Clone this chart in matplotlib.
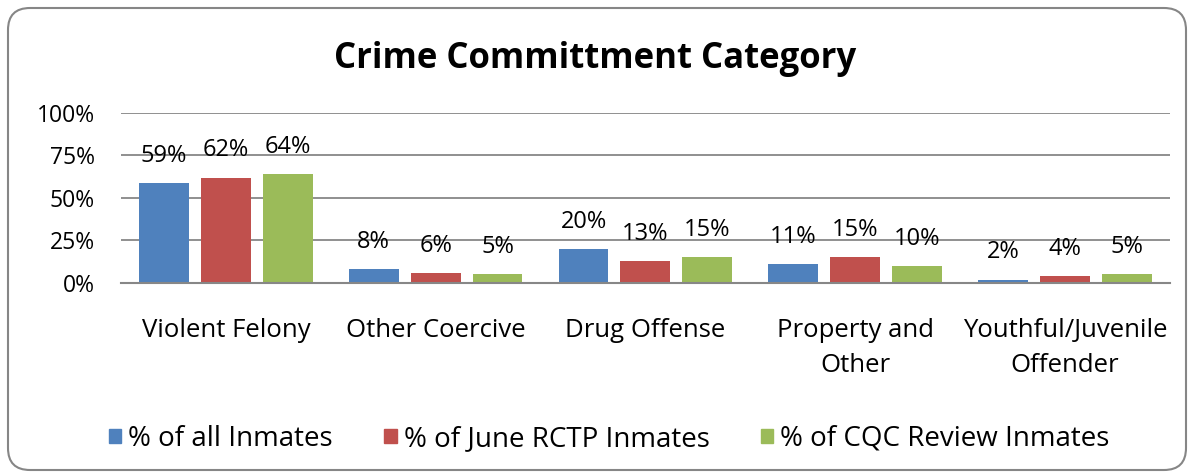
import numpy as np
import matplotlib
matplotlib.use('Agg')
import matplotlib.pyplot as plt
from matplotlib.patches import FancyBboxPatch, Patch

categories = ['Violent Felony', 'Other Coercive', 'Drug Offense',
              'Property and\nOther', 'Youthful/Juvenile\nOffender']
series_names = ['% of all Inmates', '% of June RCTP Inmates', '% of CQC Review Inmates']
all_inmates = [59, 8, 20, 11, 2]
june_rctp = [62, 6, 13, 15, 4]
cqc_review = [64, 5, 15, 10, 5]
yticks = [0, 25, 50, 75, 100]
ytick_labels = ['0%', '25%', '50%', '75%', '100%']

COLORS = ['#4F81BD', '#C0504D', '#9BBB59']
FONT = 'Open Sans'

fig = plt.figure(figsize=(11.9, 4.74), dpi=100)
ax = fig.add_axes([0.1017, 0.403, 0.8813, 0.3587])

# rounded chart border
border = FancyBboxPatch((0.08, 0.04), 11.78, 4.62,
                        boxstyle='round,pad=0,rounding_size=0.22',
                        transform=fig.dpi_scale_trans, fill=False,
                        edgecolor='#868686', lw=1.5)
fig.patches.append(border)

x = np.arange(len(categories))
width = 0.238
step = 0.295
for i, vals in enumerate([all_inmates, june_rctp, cqc_review]):
    pos = x + (i - 1) * step
    ax.bar(pos, vals, width, color=COLORS[i], zorder=3, label=series_names[i])
    for p, v in zip(pos, vals):
        ax.annotate(f'{v}%', (p, v), xytext=(0, 19.5), textcoords='offset points',
                    ha='center', va='center', fontsize=17, family=FONT, zorder=4)

ax.set_xlim(-0.5, len(categories) - 0.5)
ax.set_ylim(0, 100)
ax.set_yticks(yticks)
ax.set_yticklabels(ytick_labels, fontsize=16.5, family=FONT)
ax.set_xticks(x)
ax.set_xticklabels(categories, fontsize=18.5, family=FONT, linespacing=1.5)
ax.tick_params(axis='both', length=0)
ax.tick_params(axis='x', pad=25.5)
ax.tick_params(axis='y', pad=19)
ax.grid(axis='y', color='#878787', lw=1.3, zorder=0)
for s in ['top', 'right', 'left']:
    ax.spines[s].set_visible(False)
ax.spines['bottom'].set_color('#878787')
ax.spines['bottom'].set_linewidth(1.5)
ax.spines['bottom'].set_zorder(5)

fig.text(0.5, 0.876, 'Crime Committment Category', ha='center', va='center',
         fontsize=25, fontweight='bold', family=FONT)

handles = [Patch(color=c) for c in COLORS]
fig.legend(handles, series_names, loc='center', bbox_to_anchor=(0.512, 0.074),
           ncol=3, frameon=False, prop={'family': FONT, 'size': 20},
           handlelength=0.45, handleheight=0.45, handletextpad=0.25,
           columnspacing=1.85)

fig.savefig('out.png', dpi=100)
